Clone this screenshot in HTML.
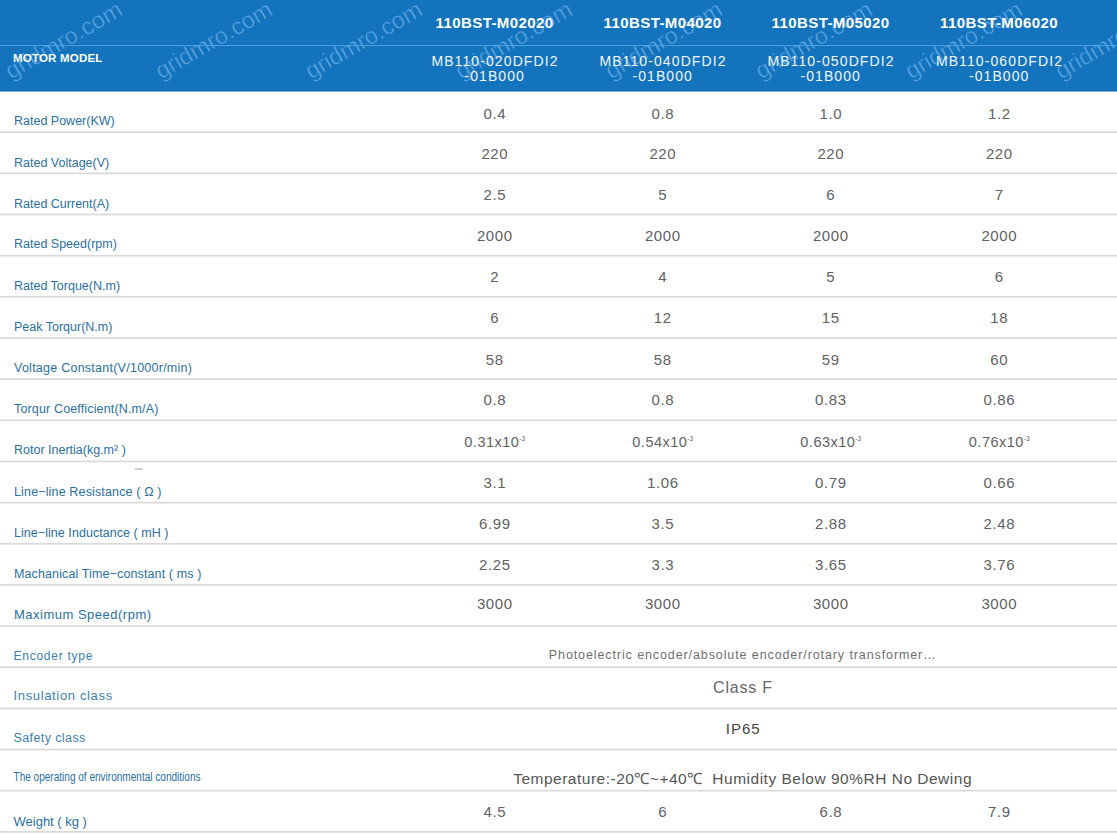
<!DOCTYPE html><html><head><meta charset="utf-8"><style>
html,body{margin:0;padding:0;background:#fff;width:1117px;height:834px;overflow:hidden}
svg{display:block}
text{font-family:"Liberation Sans",sans-serif}
.lab{fill:#2b6f9f;font-size:12.5px}
.val{fill:#616161;font-size:15px;letter-spacing:0.6px}
.hm{fill:#fff;font-weight:bold;font-size:15px;letter-spacing:0.4px}
.hs{fill:#f2f7fc;font-size:14px;letter-spacing:1.1px}
.wm{fill:#5aa6e4;font-size:23.5px;stroke:#1373bc;stroke-width:0.5px}
</style></head><body>
<svg width="1117" height="834" viewBox="0 0 1117 834">
<rect x="0" y="0" width="1117" height="91" fill="#1373bc"/>
<rect x="0" y="90" width="1117" height="1.5" fill="#0f66a8"/>

<text class="wm" transform="translate(11.0,79.5) rotate(-30)">gridmro.com</text>
<text class="wm" transform="translate(161.0,79.5) rotate(-30)">gridmro.com</text>
<text class="wm" transform="translate(311.0,79.5) rotate(-30)">gridmro.com</text>
<text class="wm" transform="translate(461.0,79.5) rotate(-30)">gridmro.com</text>
<text class="wm" transform="translate(611.0,79.5) rotate(-30)">gridmro.com</text>
<text class="wm" transform="translate(761.0,79.5) rotate(-30)">gridmro.com</text>
<text class="wm" transform="translate(911.0,79.5) rotate(-30)">gridmro.com</text>
<text class="wm" transform="translate(1061.0,79.5) rotate(-30)">gridmro.com</text>
<rect x="0" y="45" width="1117" height="1" fill="#4d9fe0"/>
<text x="13" y="61.5" style="fill:#fff;font-weight:bold;font-size:11.5px;letter-spacing:0.2px">MOTOR MODEL</text>
<text class="hm" x="494.5" y="27.5" text-anchor="middle">110BST-M02020</text>
<text class="hs" x="495.0" y="65.8" text-anchor="middle">MB110-020DFDI2</text>
<text class="hs" x="494.7" y="81" text-anchor="middle">-01B000</text>
<text class="hm" x="662.5" y="27.5" text-anchor="middle">110BST-M04020</text>
<text class="hs" x="663.0" y="65.8" text-anchor="middle">MB110-040DFDI2</text>
<text class="hs" x="662.7" y="81" text-anchor="middle">-01B000</text>
<text class="hm" x="830.5" y="27.5" text-anchor="middle">110BST-M05020</text>
<text class="hs" x="831.0" y="65.8" text-anchor="middle">MB110-050DFDI2</text>
<text class="hs" x="830.7" y="81" text-anchor="middle">-01B000</text>
<text class="hm" x="999" y="27.5" text-anchor="middle">110BST-M06020</text>
<text class="hs" x="999.5" y="65.8" text-anchor="middle">MB110-060DFDI2</text>
<text class="hs" x="999.2" y="81" text-anchor="middle">-01B000</text>
<text class="lab" x="14" y="125.2" style="letter-spacing:0px">Rated Power(KW)</text>
<text class="val" x="494.8" y="118.9" text-anchor="middle">0.4</text>
<text class="val" x="662.8" y="118.9" text-anchor="middle">0.8</text>
<text class="val" x="830.8" y="118.9" text-anchor="middle">1.0</text>
<text class="val" x="999.3" y="118.9" text-anchor="middle">1.2</text>
<text class="lab" x="14" y="166.5" style="letter-spacing:0px">Rated Voltage(V)</text>
<text class="val" x="494.8" y="158.9" text-anchor="middle">220</text>
<text class="val" x="662.8" y="158.9" text-anchor="middle">220</text>
<text class="val" x="830.8" y="158.9" text-anchor="middle">220</text>
<text class="val" x="999.3" y="158.9" text-anchor="middle">220</text>
<text class="lab" x="14" y="207.5" style="letter-spacing:0px">Rated Current(A)</text>
<text class="val" x="494.8" y="199.9" text-anchor="middle">2.5</text>
<text class="val" x="662.8" y="199.9" text-anchor="middle">5</text>
<text class="val" x="830.8" y="199.9" text-anchor="middle">6</text>
<text class="val" x="999.3" y="199.9" text-anchor="middle">7</text>
<text class="lab" x="14" y="248.3" style="letter-spacing:0px">Rated Speed(rpm)</text>
<text class="val" x="494.8" y="241.3" text-anchor="middle">2000</text>
<text class="val" x="662.8" y="241.3" text-anchor="middle">2000</text>
<text class="val" x="830.8" y="241.3" text-anchor="middle">2000</text>
<text class="val" x="999.3" y="241.3" text-anchor="middle">2000</text>
<text class="lab" x="14" y="289.6" style="letter-spacing:0px">Rated Torque(N.m)</text>
<text class="val" x="494.8" y="282.1" text-anchor="middle">2</text>
<text class="val" x="662.8" y="282.1" text-anchor="middle">4</text>
<text class="val" x="830.8" y="282.1" text-anchor="middle">5</text>
<text class="val" x="999.3" y="282.1" text-anchor="middle">6</text>
<text class="lab" x="14" y="330.9" style="letter-spacing:0px">Peak Torqur(N.m)</text>
<text class="val" x="494.8" y="323.4" text-anchor="middle">6</text>
<text class="val" x="662.8" y="323.4" text-anchor="middle">12</text>
<text class="val" x="830.8" y="323.4" text-anchor="middle">15</text>
<text class="val" x="999.3" y="323.4" text-anchor="middle">18</text>
<text class="lab" x="14" y="372.2" style="letter-spacing:0.25px">Voltage Constant(V/1000r/min)</text>
<text class="val" x="494.8" y="364.5" text-anchor="middle">58</text>
<text class="val" x="662.8" y="364.5" text-anchor="middle">58</text>
<text class="val" x="830.8" y="364.5" text-anchor="middle">59</text>
<text class="val" x="999.3" y="364.5" text-anchor="middle">60</text>
<text class="lab" x="14" y="413.1" style="letter-spacing:0.15px">Torqur Coefficient(N.m/A)</text>
<text class="val" x="494.8" y="405.3" text-anchor="middle">0.8</text>
<text class="val" x="662.8" y="405.3" text-anchor="middle">0.8</text>
<text class="val" x="830.8" y="405.3" text-anchor="middle">0.83</text>
<text class="val" x="999.3" y="405.3" text-anchor="middle">0.86</text>
<text class="lab" x="14" y="454.1" style="letter-spacing:0px">Rotor Inertia(kg.m² )</text>
<text class="val" x="494.75" y="447.1" text-anchor="middle" style="font-size:14.5px;letter-spacing:0.5px">0.31x10<tspan dy="-6.5" style="font-size:6.5px;letter-spacing:0">-3</tspan></text>
<text class="val" x="662.75" y="447.1" text-anchor="middle" style="font-size:14.5px;letter-spacing:0.5px">0.54x10<tspan dy="-6.5" style="font-size:6.5px;letter-spacing:0">-3</tspan></text>
<text class="val" x="830.75" y="447.1" text-anchor="middle" style="font-size:14.5px;letter-spacing:0.5px">0.63x10<tspan dy="-6.5" style="font-size:6.5px;letter-spacing:0">-3</tspan></text>
<text class="val" x="999.25" y="447.1" text-anchor="middle" style="font-size:14.5px;letter-spacing:0.5px">0.76x10<tspan dy="-6.5" style="font-size:6.5px;letter-spacing:0">-3</tspan></text>
<text class="lab" x="14" y="496" style="letter-spacing:0.15px">Line−line Resistance ( Ω )</text>
<text class="val" x="494.8" y="487.7" text-anchor="middle">3.1</text>
<text class="val" x="662.8" y="487.7" text-anchor="middle">1.06</text>
<text class="val" x="830.8" y="487.7" text-anchor="middle">0.79</text>
<text class="val" x="999.3" y="487.7" text-anchor="middle">0.66</text>
<text class="lab" x="14" y="537.2" style="letter-spacing:0.05px">Line−line Inductance ( mH )</text>
<text class="val" x="494.8" y="529.2" text-anchor="middle">6.99</text>
<text class="val" x="662.8" y="529.2" text-anchor="middle">3.5</text>
<text class="val" x="830.8" y="529.2" text-anchor="middle">2.88</text>
<text class="val" x="999.3" y="529.2" text-anchor="middle">2.48</text>
<text class="lab" x="14" y="578.2" style="letter-spacing:0.12px">Machanical Time−constant ( ms )</text>
<text class="val" x="494.8" y="569.7" text-anchor="middle">2.25</text>
<text class="val" x="662.8" y="569.7" text-anchor="middle">3.3</text>
<text class="val" x="830.8" y="569.7" text-anchor="middle">3.65</text>
<text class="val" x="999.3" y="569.7" text-anchor="middle">3.76</text>
<text class="lab" x="14" y="618.9" style="font-size:13px;letter-spacing:0.5px">Maximum Speed(rpm)</text>
<text class="val" x="494.8" y="609.3" text-anchor="middle">3000</text>
<text class="val" x="662.8" y="609.3" text-anchor="middle">3000</text>
<text class="val" x="830.8" y="609.3" text-anchor="middle">3000</text>
<text class="val" x="999.3" y="609.3" text-anchor="middle">3000</text>
<text x="13.5" y="659.8" style="fill:#3b80b2;font-size:12px;letter-spacing:0.75px">Encoder type</text>
<text x="13.5" y="700.2" style="fill:#3b80b2;font-size:13px;letter-spacing:0.65px">Insulation class</text>
<text x="13.5" y="741.7" style="fill:#3b80b2;font-size:12.5px;letter-spacing:0.4px">Safety class</text>
<text x="13.5" y="780.9" style="fill:#2b6f9f;font-size:12px" textLength="187" lengthAdjust="spacingAndGlyphs">The operating of environmental conditions</text>
<text x="13.5" y="825.6" style="fill:#2b6f9f;font-size:13px">Weight ( kg )</text>
<text x="742.7" y="658.8" text-anchor="middle" style="fill:#6e6e6e;font-size:12.5px;letter-spacing:0.9px">Photoelectric encoder/absolute encoder/rotary transformer…</text>
<text x="743" y="693.2" text-anchor="middle" style="fill:#666;font-size:16px;letter-spacing:0.8px">Class F</text>
<text x="743.2" y="734" text-anchor="middle" style="fill:#444;font-size:15px;letter-spacing:1px">IP65</text>
<text x="742.6" y="784.1" text-anchor="middle" style="fill:#555;font-size:15.5px;letter-spacing:0.5px;white-space:pre">Temperature:-20℃~+40℃  Humidity Below 90%RH No Dewing</text>
<text class="val" x="494.8" y="817.4" text-anchor="middle">4.5</text>
<text class="val" x="662.8" y="817.4" text-anchor="middle">6</text>
<text class="val" x="830.8" y="817.4" text-anchor="middle">6.8</text>
<text class="val" x="999.3" y="817.4" text-anchor="middle">7.9</text>
<rect x="0" y="131.35" width="1117" height="1.7" fill="#d9d9d9"/>
<rect x="0" y="172.50" width="1117" height="1.7" fill="#d9d9d9"/>
<rect x="0" y="213.66" width="1117" height="1.7" fill="#d9d9d9"/>
<rect x="0" y="254.81" width="1117" height="1.7" fill="#d9d9d9"/>
<rect x="0" y="295.97" width="1117" height="1.7" fill="#d9d9d9"/>
<rect x="0" y="337.12" width="1117" height="1.7" fill="#d9d9d9"/>
<rect x="0" y="378.27" width="1117" height="1.7" fill="#d9d9d9"/>
<rect x="0" y="419.43" width="1117" height="1.7" fill="#d9d9d9"/>
<rect x="0" y="460.58" width="1117" height="1.7" fill="#d9d9d9"/>
<rect x="0" y="501.74" width="1117" height="1.7" fill="#d9d9d9"/>
<rect x="0" y="542.89" width="1117" height="1.7" fill="#d9d9d9"/>
<rect x="0" y="584.04" width="1117" height="1.7" fill="#d9d9d9"/>
<rect x="0" y="625.20" width="1117" height="1.7" fill="#d9d9d9"/>
<rect x="0" y="666.35" width="1117" height="1.7" fill="#d9d9d9"/>
<rect x="0" y="707.51" width="1117" height="1.7" fill="#d9d9d9"/>
<rect x="0" y="748.66" width="1117" height="1.7" fill="#d9d9d9"/>
<rect x="0" y="789.81" width="1117" height="1.7" fill="#d9d9d9"/>
<rect x="0" y="830.97" width="1117" height="1.7" fill="#d9d9d9"/>
<rect x="135" y="468.3" width="7.5" height="1.6" fill="#b9c3ce"/>
</svg></body></html>
